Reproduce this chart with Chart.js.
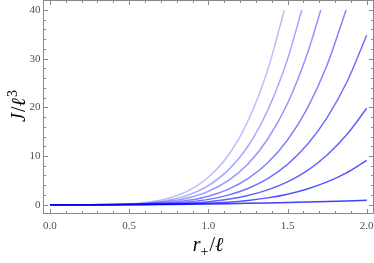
<!DOCTYPE html>
<html>
<head>
<meta charset="utf-8">
<script src="https://cdn.jsdelivr.net/npm/chart.js@4.4.1/dist/chart.umd.min.js"></script>
<style>
  html, body { margin: 0; padding: 0; background: #fff; }
  #wrap { width: 374px; height: 263px; position: relative; }
</style>
</head>
<body>
<div id="wrap"><canvas id="chart" width="374" height="263"></canvas></div>
<script>
// r+/l sample positions, shared by all curves
const rValues = [0, 0.25, 0.5, 0.625, 0.75, 0.875, 1.0, 1.125, 1.25, 1.375, 1.5, 1.625, 1.75, 1.875, 2.0];

// J/l^3, bottom curve first
const curve1 = [0, 0, 0.02, 0.035, 0.06, 0.10, 0.15, 0.21, 0.28, 0.36, 0.45, 0.55, 0.66, 0.78, 0.92];
const curve2 = [0, 0, 0.01, 0.03, 0.07, 0.15, 0.28, 0.51, 0.87, 1.4, 2.16, 3.23, 4.68, 6.6, 9.1];
const curve3 = [0, 0, 0.02, 0.06, 0.15, 0.32, 0.62, 1.12, 1.89, 3.05, 4.7, 7.0, 10.2, 14.4, 19.8];
const curve4 = [0, 0, 0.03, 0.10, 0.26, 0.56, 1.09, 1.96, 3.33, 5.36, 8.28, 12.35, 17.9, 25.2, 34.8];
const curve5 = [0, 0, 0.05, 0.17, 0.41, 0.90, 1.75, 3.15, 5.34, 8.6, 13.3, 19.8, 28.7];
const curve6 = [0, 0, 0.09, 0.26, 0.65, 1.41, 2.74, 4.94, 8.36, 13.5, 20.8, 31.0];
const curve7 = [0, 0, 0.12, 0.37, 0.93, 2.02, 3.94, 7.1, 12.0, 19.4, 29.9];
const curve8 = [0, 0, 0.18, 0.54, 1.34, 2.89, 5.63, 10.1, 17.2, 27.7];

// where the steep curves leave the plot range (J = 40)
const curveEnds = [null, null, null, null, 1.87, 1.71, 1.59, 1.48];
const cutValue = 40;

const xTicks = [0, 0.5, 1.0, 1.5, 2.0];
const yTicks = [0, 10, 20, 30, 40];

const lineAlpha = [0.75, 0.68, 0.62, 0.56, 0.49, 0.42, 0.35, 0.27];

const curves = [curve1, curve2, curve3, curve4, curve5, curve6, curve7, curve8];

const datasets = curves.map((vals, i) => {
  const pts = vals.map((v, k) => ({ x: rValues[k], y: v }));
  if (curveEnds[i] !== null) pts.push({ x: curveEnds[i], y: cutValue });
  return {
    data: pts,
    borderColor: 'rgba(0, 0, 255, ' + lineAlpha[i] + ')',
    borderWidth: 1.5,
    pointRadius: 0,
    fill: false,
    cubicInterpolationMode: 'monotone'
  };
});

const tickFont = { family: 'Liberation Serif', size: 11 };
const frameColor = '#8a8a8a';
const labelColor = '#505050';

// frame with inward ticks on all sides + axis titles
const framePlugin = {
  id: 'frame',
  afterDatasetsDraw(chart) {
    const { ctx, chartArea: a, scales: { x, y } } = chart;
    ctx.save();
    ctx.strokeStyle = frameColor;
    ctx.lineWidth = 1;
    ctx.strokeRect(a.left, a.top, a.right - a.left, a.bottom - a.top);

    ctx.beginPath();
    for (let i = 0; i <= 20; i++) {
      const px = Math.round(x.getPixelForValue(i / 10)) + 0.5;
      const len = i % 5 === 0 ? 4.5 : 2.5;
      ctx.moveTo(px, a.bottom); ctx.lineTo(px, a.bottom - len);
      ctx.moveTo(px, a.top); ctx.lineTo(px, a.top + len);
    }
    for (let i = 0; i <= 20; i++) {
      const py = Math.round(y.getPixelForValue(i * 2)) + 0.5;
      const len = i % 5 === 0 ? 4.5 : 2.5;
      ctx.moveTo(a.left, py); ctx.lineTo(a.left + len, py);
      ctx.moveTo(a.right, py); ctx.lineTo(a.right - len, py);
    }
    ctx.stroke();

    // axis titles
    ctx.fillStyle = '#000';
    ctx.textBaseline = 'alphabetic';
    const big = '20px "Liberation Serif"';
    const bigIt = 'italic 20px "Liberation Serif"';
    const small = '14px "Liberation Serif"';

    const drawRun = (parts, cx, base) => {
      let w = 0;
      parts.forEach(p => { ctx.font = p.f; w += ctx.measureText(p.t).width + (p.gap || 0); });
      let cur = cx - w / 2;
      parts.forEach(p => {
        ctx.font = p.f;
        ctx.fillText(p.t, cur, base + (p.dy || 0));
        cur += ctx.measureText(p.t).width + (p.gap || 0);
      });
    };

    drawRun([
      { t: 'r', f: bigIt },
      { t: '+', f: small, dy: 5, gap: 1 },
      { t: '/', f: big },
      { t: '\u2113', f: bigIt }
    ], 208, 251);

    ctx.save();
    ctx.translate(25, 106);
    ctx.rotate(-Math.PI / 2);
    drawRun([
      { t: 'J', f: bigIt, gap: 1 },
      { t: '/', f: big },
      { t: '\u2113', f: bigIt, gap: 1 },
      { t: '3', f: small, dy: -8 }
    ], 0, 0);
    ctx.restore();

    ctx.restore();
  }
};

new Chart(document.getElementById('chart'), {
  type: 'line',
  data: { datasets: datasets },
  options: {
    responsive: false,
    animation: false,
    layout: { padding: { top: 0.5, right: 0.5, left: 0, bottom: 0 } },
    plugins: { legend: { display: false }, tooltip: { enabled: false } },
    scales: {
      x: {
        type: 'linear',
        min: -0.041,
        max: 2.043,
        grid: { display: false, drawTicks: false },
        border: { display: false },
        ticks: {
          font: tickFont,
          color: labelColor,
          padding: 6,
          maxRotation: 0,
          callback: v => v.toFixed(1)
        },
        afterBuildTicks: s => { s.ticks = xTicks.map(v => ({ value: v })); },
        afterFit: s => { s.height = 49.5; s.paddingLeft = 0; s.paddingRight = 0; }
      },
      y: {
        type: 'linear',
        min: -1.81,
        max: 41.95,
        grid: { display: false, drawTicks: false },
        border: { display: false },
        ticks: {
          font: tickFont,
          color: labelColor,
          padding: 3
        },
        afterBuildTicks: s => { s.ticks = yTicks.map(v => ({ value: v })); },
        afterFit: s => { s.width = 43.5; s.paddingTop = 0; s.paddingBottom = 0; }
      }
    }
  },
  plugins: [framePlugin]
});
</script>
</body>
</html>
